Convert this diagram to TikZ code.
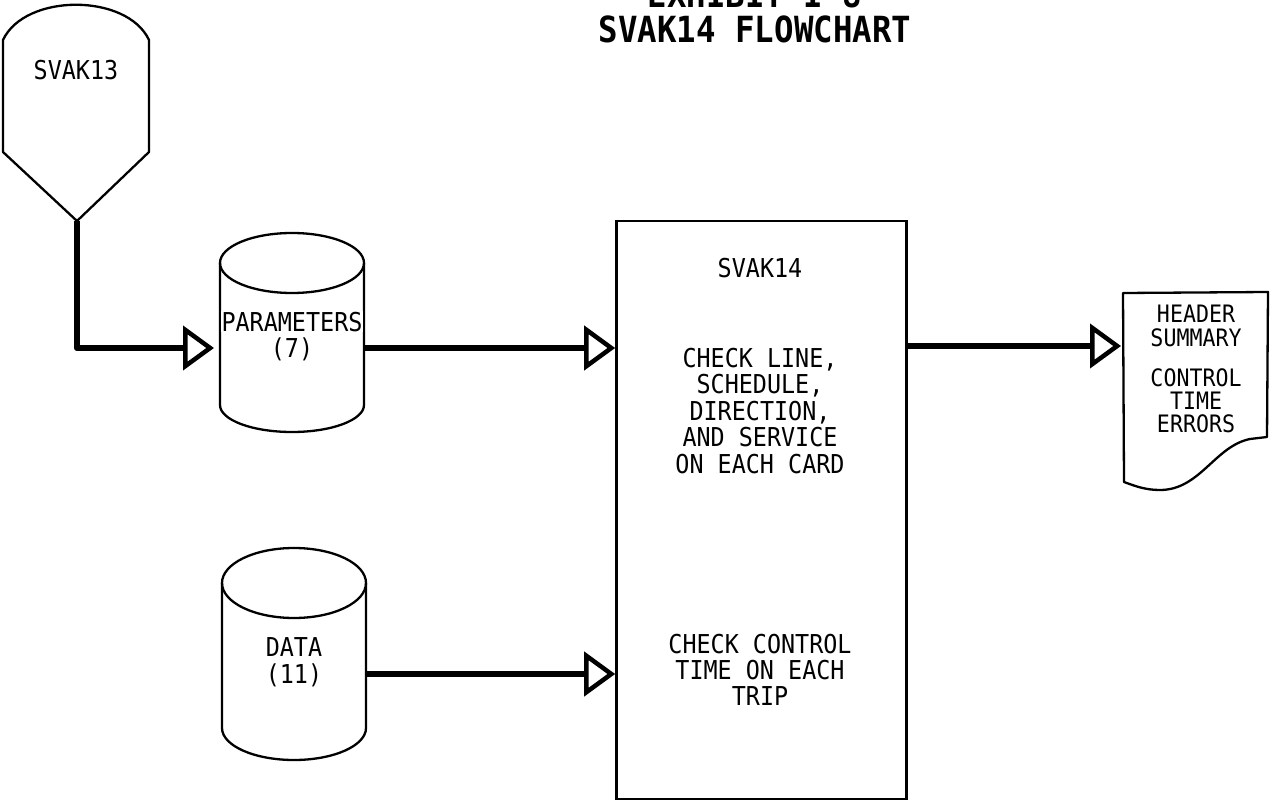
\documentclass[tikz,border=0pt]{standalone}
\usepackage{fontspec}
\newfontfamily\plotfont[FakeStretch=0.9]{DejaVu Sans Mono}
\usetikzlibrary{arrows.meta}
\begin{document}
\begin{tikzpicture}[x=1pt,y=-1pt,
  outline/.style={line width=2.3pt, line join=round},
  flow/.style={line width=6.5pt, line join=round,
    -{Triangle[open,length=31pt,width=44pt,line width=4.5pt]}},
  lbl/.style={font=\plotfont\fontsize{26}{28}\selectfont, inner sep=0pt, anchor=base},
  small lbl/.style={lbl, font=\plotfont\fontsize{24}{26}\selectfont},
  ttl/.style={font=\plotfont\bfseries\fontsize{36}{38}\selectfont, inner sep=0pt, anchor=base}]
\useasboundingbox (0,0) rectangle (1272,802);
\clip (0,0) rectangle (1272,802);

% title
\node[ttl] (title1) at (755,8) {EXHIBIT I-8};
\node[ttl] (title2) at (755,43) {SVAK14 FLOWCHART};

% SVAK13 off-page connector shape
\draw[outline] (3,40) .. controls (25,-7) and (127,-7) .. (149,40)
  -- (149,152) -- (77,221) -- (3,152) -- cycle;
\node[lbl] (svak13) at (76,80) {SVAK13};
\coordinate (s13) at (77,221);

% PARAMETERS cylinder
\draw[outline] (292,263) ellipse[x radius=72, y radius=30];
\draw[outline] (220,263) -- (220,405) arc[start angle=180, end angle=0, x radius=72, y radius=27] -- (364,263);
\node[lbl, fill=white, inner sep=1pt] (params) at (292,331) {PARAMETERS};
\node[lbl] (params7) at (292,357) {(7)};
\coordinate (pIn) at (214,348);
\coordinate (pOut) at (364,348);

% DATA cylinder
\draw[outline] (294,583) ellipse[x radius=72, y radius=35];
\draw[outline] (222,583) -- (222,728) arc[start angle=180, end angle=0, x radius=72, y radius=32] -- (366,583);
\node[lbl] (data) at (294,656) {DATA};
\node[lbl] (data11) at (294,683) {(11)};
\coordinate (dOut) at (366,674);

% main process box
\node[draw, line width=2.6pt, minimum width=290pt, minimum height=578pt, inner sep=0pt] (main) at (761.5,510) {};
\node[lbl] (m0) at (760,278) {SVAK14};
\node[lbl] (m1) at (760,367) {CHECK LINE,};
\node[lbl] (m2) at (760,393) {SCHEDULE,};
\node[lbl] (m3) at (760,420) {DIRECTION,};
\node[lbl] (m4) at (760,446) {AND SERVICE};
\node[lbl] (m5) at (760,473) {ON EACH CARD};
\node[lbl] (m6) at (760,653) {CHECK CONTROL};
\node[lbl] (m7) at (760,679) {TIME ON EACH};
\node[lbl] (m8) at (760,705) {TRIP};

% report document
\draw[outline] (1123,293) -- (1268,292) -- (1267,437) -- (1250,439)
  .. controls (1215,446) and (1200,490) .. (1160,490)
  .. controls (1145,490) and (1135,486) .. (1124,482) -- cycle;
\node[small lbl] (r1) at (1196,323) {HEADER};
\node[small lbl] (r2) at (1196,347) {SUMMARY};
\node[small lbl] (r3) at (1196,386) {CONTROL};
\node[small lbl] (r4) at (1196,409) {TIME};
\node[small lbl] (r5) at (1196,432) {ERRORS};
\coordinate (hdrIn) at (1121,346);

% connectors
\draw[flow] (s13) -- (77,348) -- (pIn);
\draw[flow] (pOut) -- (main.west |- pOut);
\draw[flow] (dOut) -- (main.west |- dOut);
\draw[flow] (main.east |- hdrIn) -- (hdrIn);
\end{tikzpicture}
\end{document}
